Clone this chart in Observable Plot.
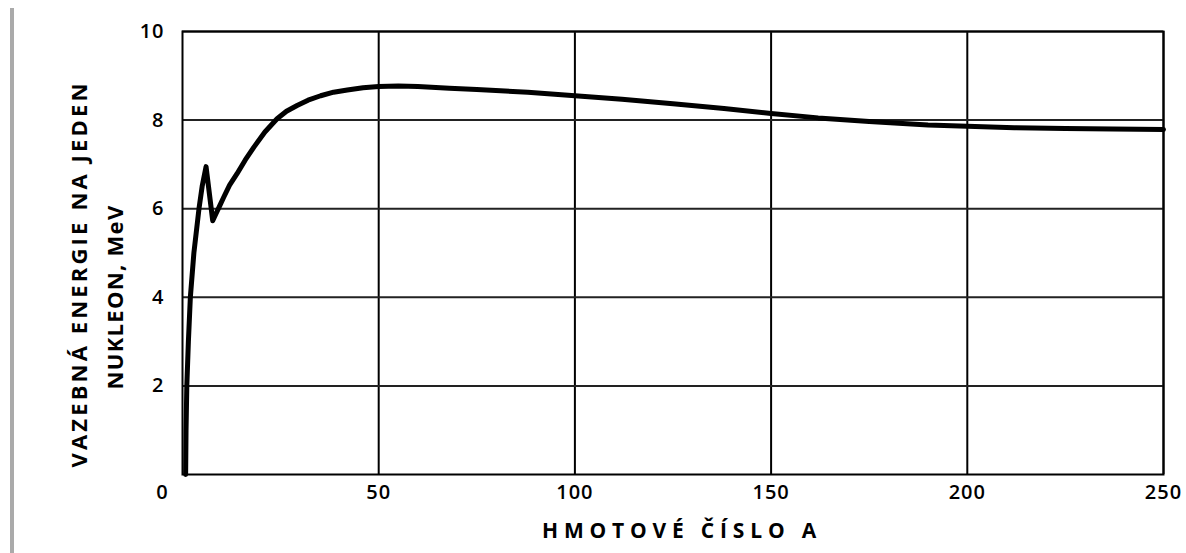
<!DOCTYPE html>
<html>
<head>
<meta charset="utf-8">
<script src="https://cdn.jsdelivr.net/npm/d3@7"></script>
<script src="https://cdn.jsdelivr.net/npm/@observablehq/plot@0.6"></script>
<style>
  html, body { margin: 0; padding: 0; background: #fff; }
  #wrap { position: relative; width: 1186px; height: 553px; overflow: hidden; }
  #edge { position: absolute; left: 10px; top: 8px; width: 4px; height: 545px; background: #aaa; }
  #chart { position: absolute; left: 0; top: 0; }
</style>
</head>
<body>
<div id="wrap"><div id="edge"></div><div id="chart"></div></div>
<script>
// Mass number A and binding energy per nucleon (MeV)
const massNumber = [0.8, 0.9, 1.1, 1.5, 2.0, 2.9, 4.2, 5.0, 6.0, 7.7, 8.5, 9.5, 10.5, 12, 13.9, 16, 18.2, 21, 24.1, 26.5, 29.2, 32, 35.2, 38.5, 42, 46, 50, 55, 60, 68, 75, 88, 100, 112, 125, 138, 150, 162, 175, 190, 200, 212, 225, 237, 250];
const bindingEnergy = [0, 1, 2, 3, 4, 5, 6, 6.5, 6.95, 5.73, 5.88, 6.07, 6.26, 6.53, 6.79, 7.1, 7.39, 7.73, 8.03, 8.2, 8.33, 8.45, 8.55, 8.63, 8.68, 8.73, 8.76, 8.77, 8.76, 8.72, 8.69, 8.63, 8.55, 8.47, 8.37, 8.26, 8.15, 8.05, 7.97, 7.89, 7.86, 7.83, 7.81, 7.80, 7.79];
const xTicks = [50, 100, 150, 200, 250];
const yTicks = [2, 4, 6, 8, 10];
const origin = [0];
const yTitleLine1 = "VAZEBNÁ ENERGIE NA JEDEN";
const yTitleLine2 = "NUKLEON, MeV";
const xTitle = "HMOTOVÉ ČÍSLO A";

const data = massNumber.map((a, i) => ({A: a, E: bindingEnergy[i]}));

const chart = Plot.plot({
  width: 1186,
  height: 553,
  marginLeft: 182,
  marginRight: 23,
  marginTop: 31,
  marginBottom: 79,
  x: {domain: [0, 250]},
  y: {domain: [0, 10]},
  style: {fontFamily: "'Open Sans', 'DejaVu Sans', sans-serif", fontSize: "20px", color: "#000", background: "transparent", fontWeight: 600},
  marks: [
    Plot.gridX(xTicks, {stroke: "#000", strokeOpacity: 1, strokeWidth: 2}),
    Plot.gridY(yTicks, {stroke: "#222", strokeOpacity: 1, strokeWidth: 2}),
    Plot.frame({stroke: "#000", strokeWidth: 2}),
    Plot.line(data, {x: "A", y: "E", stroke: "#000", strokeWidth: 5, strokeLinejoin: "round", strokeLinecap: "round"}),
    Plot.axisX(xTicks, {tickSize: 0, tickPadding: 10, label: null, fontSize: 20}),
    Plot.axisY(yTicks, {tickSize: 0, tickPadding: 18, label: null, fontSize: 20}),
    Plot.text(origin, {x: d => d, y: d => d, text: d => String(d), dx: -20, dy: 18, fontSize: 20}),
    Plot.text([yTitleLine1], {text: d => d, frameAnchor: "left", textAnchor: "middle", rotate: -90, dx: -103, dy: 21, fontSize: 22, fontWeight: 700, className: "ytitle1"}),
    Plot.text([yTitleLine2], {text: d => d, frameAnchor: "left", textAnchor: "middle", rotate: -90, dx: -67, dy: 44, fontSize: 22, fontWeight: 700, className: "ytitle2"}),
    Plot.text([xTitle], {text: d => d, frameAnchor: "bottom", textAnchor: "middle", dx: 9, dy: 63, fontSize: 21, fontWeight: 700, className: "xtitle"})
  ]
});
document.getElementById("chart").appendChild(chart);
d3.select(chart).selectAll("text").style("letter-spacing", "1px");

// stretch the titles to the widths they have in the reference
function stretch(cls, target) {
  d3.select(chart).selectAll("g." + cls + " text").each(function() {
    this.style.letterSpacing = "0px";
    const len = this.getComputedTextLength();
    const n = this.textContent.length;
    this.style.letterSpacing = ((target - len) / n) + "px";
  });
}
stretch("ytitle1", 387);
stretch("ytitle2", 185);
stretch("xtitle", 280);
</script>
</body>
</html>
